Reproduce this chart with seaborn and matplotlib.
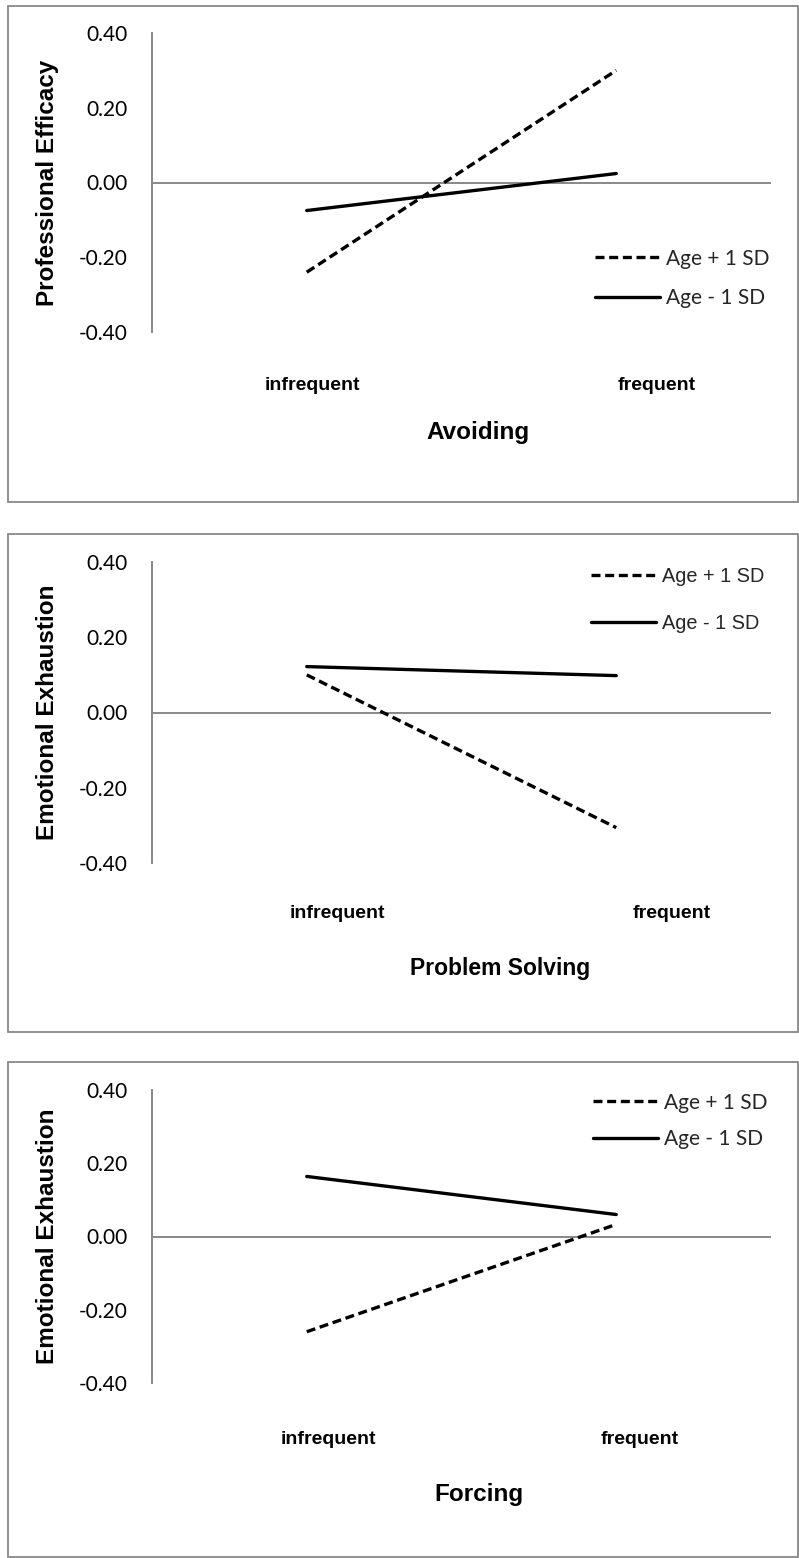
import matplotlib
matplotlib.use("Agg")
import matplotlib.pyplot as plt
import matplotlib.transforms as mtransforms
from matplotlib.patches import Rectangle
import pandas as pd
import seaborn as sns

# --- data ---
levels = ["infrequent", "frequent"]
groups = ["Age + 1 SD", "Age - 1 SD"]
y_ticks = [-0.40, -0.20, 0.00, 0.20, 0.40]

avoiding_high = [-0.24, 0.30]
avoiding_low = [-0.075, 0.024]
problem_high = [0.10, -0.306]
problem_low = [0.122, 0.098]
forcing_high = [-0.26, 0.033]
forcing_low = [0.164, 0.06]

titles = ["Avoiding", "Problem Solving", "Forcing"]
ylabels = ["Professional Efficacy", "Emotional Exhaustion", "Emotional Exhaustion"]
highs = [avoiding_high, problem_high, forcing_high]
lows = [avoiding_low, problem_low, forcing_low]

# --- layout (pixels of a 799x1558 canvas) ---
W, H = 799, 1558
GRAY = "#888888"
AX_L, AX_R = 152, 771
layout = [
    dict(box=(6, 502), ax=(33, 332), xt_off=(6, 40), xt_pad=53, xl=(478, 433), xl_size=17.5,
         leg=(595, 278.5), leg_font="Lato", leg_size=15, leg_space=0.95, hlen=3.1),
    dict(box=(534, 1032), ax=(562, 863), xt_off=(31, 55), xt_pad=50, xl=(500, 968), xl_size=16.5,
         leg=(591, 600), leg_font="Liberation Sans", leg_size=14.3, leg_space=1.45, hlen=3.25),
    dict(box=(1062, 1557), ax=(1090, 1383), xt_off=(22, 23), xt_pad=56, xl=(479, 1495), xl_size=17.5,
         leg=(593, 1121), leg_font="Lato", leg_size=15, leg_space=0.8, hlen=3.1),
]

sns.set_theme(style="white")
plt.rcParams["axes.unicode_minus"] = False
plt.rcParams["font.family"] = ["Lato", "DejaVu Sans"]

fig = plt.figure(figsize=(W / 100, H / 100), dpi=100)
fig.patch.set_facecolor("white")

def fx(px):
    return px / W

def fy(py):
    return 1 - py / H

for title, ylab, hi, lo, lay in zip(titles, ylabels, highs, lows, layout):
    b0, b1 = lay["box"]
    fig.patches.append(Rectangle((fx(8), fy(b1)), (798 - 8) / W, (b1 - b0) / H,
                                 transform=fig.transFigure, facecolor="white",
                                 edgecolor=GRAY, linewidth=1.3, zorder=-1))
    top, bot = lay["ax"]
    ax = fig.add_axes([fx(AX_L), fy(bot), (AX_R - AX_L) / W, (bot - top) / H])
    ax.set_facecolor("none")

    df = pd.DataFrame({
        "level": levels * 2,
        "group": [groups[0]] * 2 + [groups[1]] * 2,
        "value": hi + lo,
    })
    sns.lineplot(data=df, x="level", y="value", hue="group", style="group",
                 hue_order=groups, style_order=groups, palette=["black", "black"],
                 dashes={groups[0]: (2.7, 1.4), groups[1]: ""}, linewidth=2.4, ax=ax)
    ax.axhline(0, color=GRAY, linewidth=1.4, zorder=1)

    ax.set_xlim(-0.5, 1.5)
    ax.set_ylim(-0.4, 0.4)
    ax.set_yticks(y_ticks, labels=[f"{t:.2f}" for t in y_ticks])
    ax.set_xticks([0, 1], labels=levels)
    for s in ["top", "right", "bottom"]:
        ax.spines[s].set_visible(False)
    ax.spines["left"].set_color(GRAY)
    ax.spines["left"].set_linewidth(1.4)

    ax.tick_params(axis="y", length=0, pad=24 * 0.72, labelsize=15, labelcolor="black")
    ax.tick_params(axis="x", length=0, pad=lay["xt_pad"] * 0.72, labelcolor="black")
    for lbl, off in zip(ax.get_xticklabels(), lay["xt_off"]):
        lbl.set_fontfamily("Liberation Sans")
        lbl.set_fontweight("bold")
        lbl.set_fontsize(14)
        lbl.set_va("center")
        lbl.set_transform(lbl.get_transform() +
                          mtransforms.ScaledTranslation(off / 100, 0, fig.dpi_scale_trans))

    ax.set_xlabel(title, fontfamily="Liberation Sans", fontweight="bold",
                  fontsize=lay["xl_size"], color="black")
    ax.xaxis.set_label_coords((lay["xl"][0] - AX_L) / (AX_R - AX_L),
                              -(lay["xl"][1] - bot) / (bot - top))
    ax.xaxis.label.set_va("center")
    ax.set_ylabel(ylab, fontfamily="Liberation Sans", fontweight="bold",
                  fontsize=17.5, color="black")
    ax.yaxis.set_label_coords((47 - AX_L) / (AX_R - AX_L), 0.5)
    ax.yaxis.label.set_va("center")

    h, l = ax.get_legend_handles_labels()
    ax.legend(h, l, loc="center left", bbox_to_anchor=(fx(lay["leg"][0]), fy(lay["leg"][1])),
              bbox_transform=fig.transFigure, frameon=False, borderpad=0, borderaxespad=0,
              handlelength=lay["hlen"], handletextpad=0.3, labelspacing=lay["leg_space"],
              prop={"family": [lay["leg_font"], "DejaVu Sans"], "size": lay["leg_size"]})

fig.savefig("out.png", dpi=100)
